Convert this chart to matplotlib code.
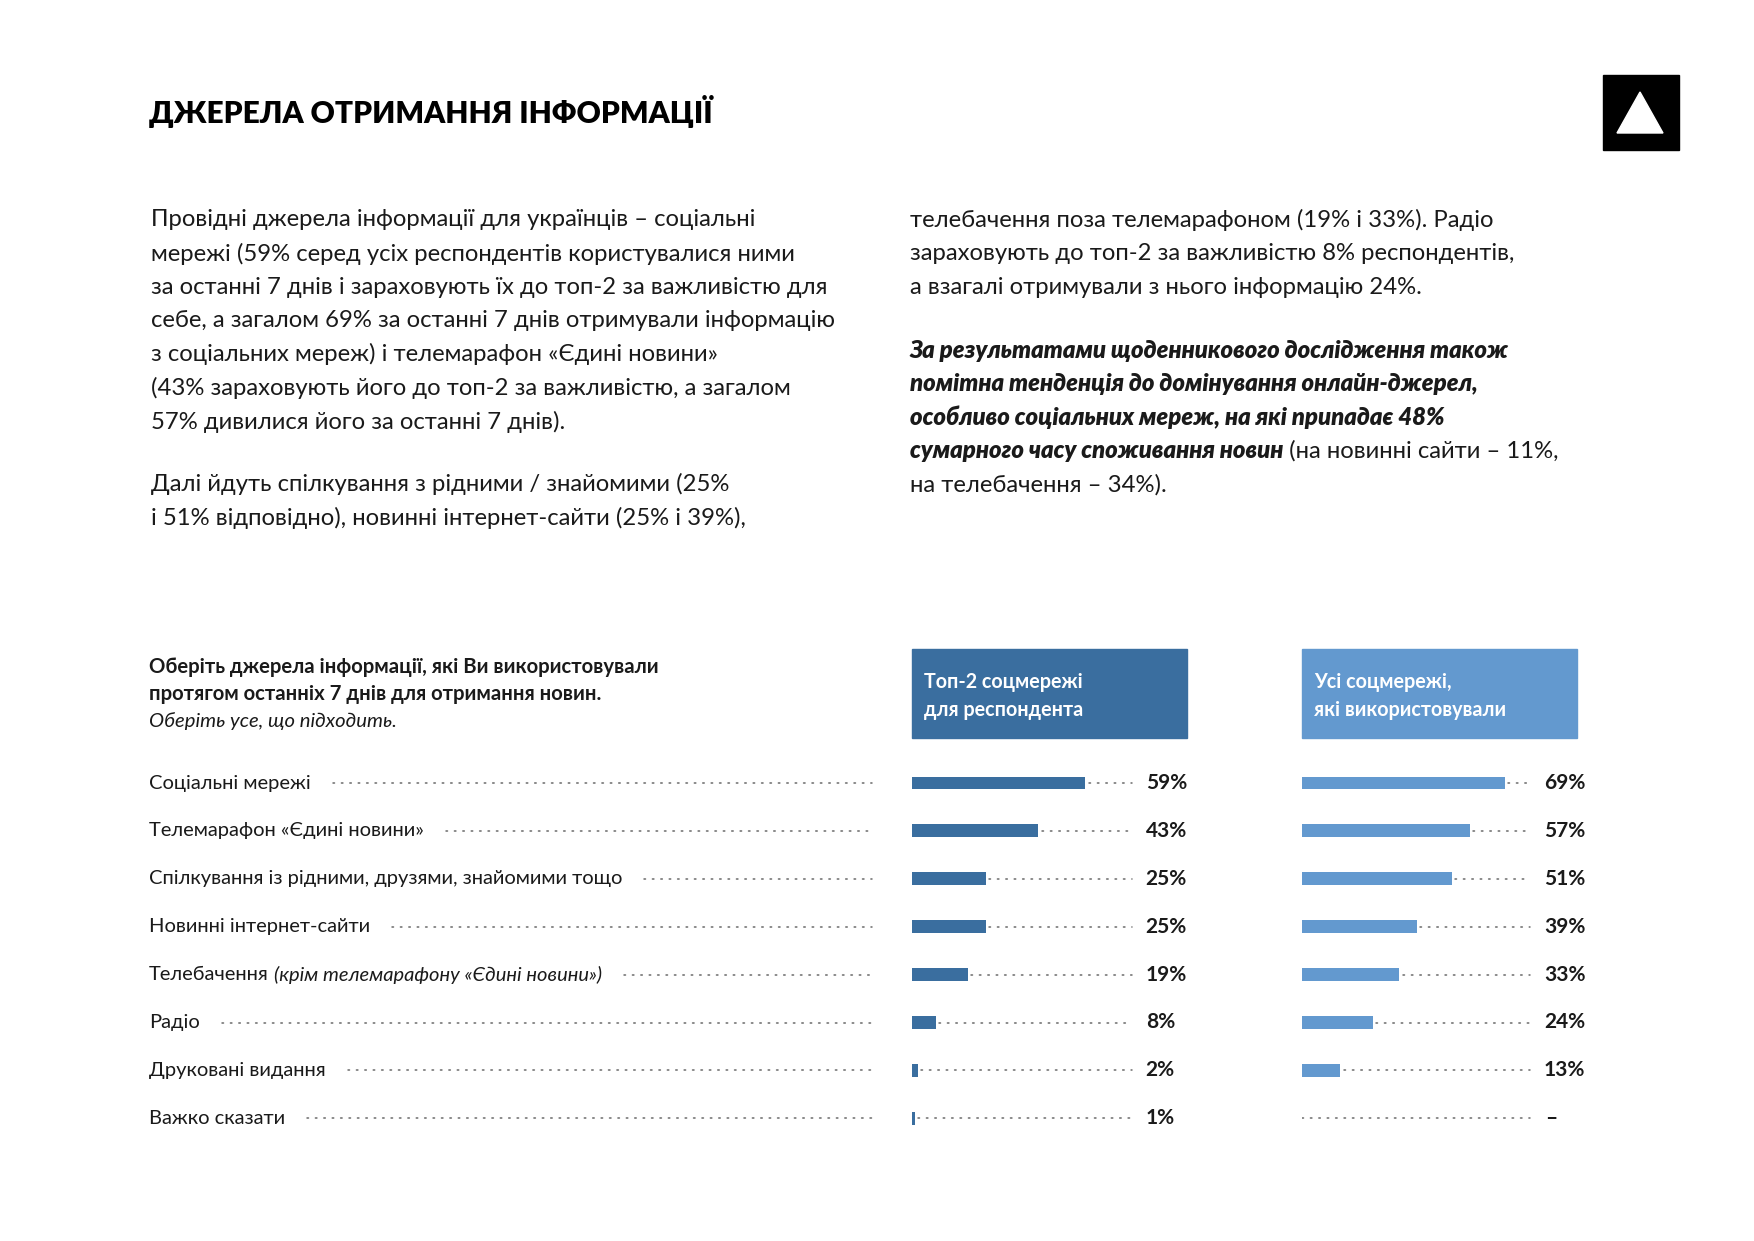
import matplotlib
matplotlib.use("Agg")
import matplotlib.pyplot as plt
from matplotlib.patches import Rectangle, Polygon

plt.rcParams['font.family'] = ['Lato', 'DejaVu Sans']

# data
sources = ["Соціальні мережі",
           "Телемарафон «Єдині новини»",
           "Спілкування із рідними, друзями, знайомими тощо",
           "Новинні інтернет-сайти",
           "Телебачення",
           "Радіо",
           "Друковані видання",
           "Важко сказати"]
source_notes = ["", "", "", "", "(крім телемарафону «Єдині новини»)", "", "", ""]
top2 = [59, 43, 25, 25, 19, 8, 2, 1]
all_used = [69, 57, 51, 39, 33, 24, 13, None]
col_titles = ["Топ-2 соцмережі\nдля респондента", "Усі соцмережі,\nякі використовували"]

title = "ДЖЕРЕЛА ОТРИМАННЯ ІНФОРМАЦІЇ"
left_par = ["Провідні джерела інформації для українців – соціальні",
            "мережі (59% серед усіх респондентів користувалися ними",
            "за останні 7 днів і зараховують їх до топ-2 за важливістю для",
            "себе, а загалом 69% за останні 7 днів отримували інформацію",
            "з соціальних мереж) і телемарафон «Єдині новини»",
            "(43% зараховують його до топ-2 за важливістю, а загалом",
            "57% дивилися його за останні 7 днів)."]
left_par2 = ["Далі йдуть спілкування з рідними / знайомими (25%",
             "і 51% відповідно), новинні інтернет-сайти (25% і 39%),"]
right_par = ["телебачення поза телемарафоном (19% і 33%). Радіо",
             "зараховують до топ-2 за важливістю 8% респондентів,",
             "а взагалі отримували з нього інформацію 24%."]
right_bold = ["За результатами щоденникового дослідження також",
              "помітна тенденція до домінування онлайн-джерел,",
              "особливо соціальних мереж, на які припадає 48%",
              "сумарного часу споживання новин"]
right_tail = [" (на новинні сайти – 11%,", "на телебачення – 34%)."]
question = ["Оберіть джерела інформації, які Ви використовували",
            "протягом останніх 7 днів для отримання новин."]
question_note = "Оберіть усе, що підходить."

DARK = '#3a6e9f'
LIGHT = '#6399cf'
INK = '#1a1a1a'
DOT = '#6a6a6a'

W, H = 1754, 1241
fig = plt.figure(figsize=(W / 100, H / 100), dpi=100)
page = fig.add_axes([0, 0, 1, 1])
page.set_xlim(0, W)
page.set_ylim(H, 0)
page.axis('off')
renderer = fig.canvas.get_renderer()


def right_edge(t):
    bb = t.get_window_extent(renderer=renderer)
    return bb.x1  # pixels == page x units


# header
page.text(149, 112, title, fontsize=21.5, fontweight='heavy', color='black', va='center')
page.add_patch(Rectangle((1603, 75), 76, 75, color='black'))
page.add_patch(Polygon([(1617, 133), (1663, 133), (1640, 92)], closed=True, color='white'))

# paragraphs
PS = 17.2
LH = 33.6
for i, s in enumerate(left_par):
    page.text(151, 220 + i * LH, s, fontsize=PS, color=INK, va='center')
for i, s in enumerate(left_par2):
    page.text(151, 484 + i * LH, s, fontsize=PS, color=INK, va='center')
for i, s in enumerate(right_par):
    page.text(910, 220 + i * LH, s, fontsize=PS, color=INK, va='center')
for i, s in enumerate(right_bold):
    t = page.text(910, 350 + i * LH, s, fontsize=PS, color=INK, va='center',
                  fontweight='heavy', fontstyle='italic')
last_x = right_edge(t)
page.text(last_x, 350 + 3 * LH, right_tail[0], fontsize=PS, color=INK, va='center')
page.text(910, 350 + 4 * LH, right_tail[1], fontsize=PS, color=INK, va='center')

# question
for i, s in enumerate(question):
    page.text(149, 667 + i * 27, s, fontsize=14.6, fontweight='bold', color=INK, va='center')
page.text(149, 721, question_note, fontsize=14.6, fontstyle='italic', color=INK, va='center')

# column header boxes
for x0, col, txt in [(912, DARK, col_titles[0]), (1302, LIGHT, col_titles[1])]:
    page.add_patch(Rectangle((x0, 649), 275, 89, color=col))
    for j, line in enumerate(txt.split("\n")):
        page.text(x0 + 12, 682 + j * 28, line, fontsize=14.2, fontweight='bold',
                  color='white', va='center')

# rows
ROW0, STEP = 783, 47.9
LEAD_END = 872
for i, (lab, note) in enumerate(zip(sources, source_notes)):
    y = ROW0 + i * STEP
    t = page.text(149, y, lab, fontsize=14.5, color=INK, va='center')
    xe = right_edge(t)
    if note:
        t2 = page.text(xe + 5, y, note, fontsize=14.5, fontstyle='italic', color=INK, va='center')
        xe = right_edge(t2)
    page.plot([xe + 22, LEAD_END], [y, y], color=DOT, lw=1.1,
              linestyle=(0, (1, 4.5)), dash_capstyle='round')

# bar columns, percent units
PX_PER_PCT = 2.94
top_px = ROW0 - STEP / 2
bot_px = ROW0 + STEP * (len(sources) - 0.5)
n = len(sources)


def bar_axes(x0_px, values, color, lead_end, lab_x):
    wpx = 275
    ax = fig.add_axes([x0_px / W, 1 - bot_px / H, wpx / W, (bot_px - top_px) / H])
    ax.set_xlim(0, wpx / PX_PER_PCT)
    ax.set_ylim(n - 0.5, -0.5)
    ax.axis('off')
    for i, v in enumerate(values):
        if v is None:
            ax.plot([0, lead_end], [i, i], color=DOT, lw=1.1,
                    linestyle=(0, (1, 4.5)), dash_capstyle='round')
            ax.text(lab_x + 0.5, i, "–", fontsize=15, fontweight='bold',
                    color=INK, va='center')
            continue
        ax.barh(i, v, height=0.27, color=color, edgecolor='none')
        ax.plot([v + 1.2, lead_end], [i, i], color=DOT, lw=1.1,
                linestyle=(0, (1, 4.5)), dash_capstyle='round')
        ax.text(lab_x, i, f"{v}%", fontsize=15, fontweight='bold', color=INK, va='center')
    return ax


bar_axes(912, top2, DARK, 74.8, 79.5)
bar_axes(1302, all_used, LIGHT, 77.5, 82.3)

fig.savefig("out.png", dpi=100)
